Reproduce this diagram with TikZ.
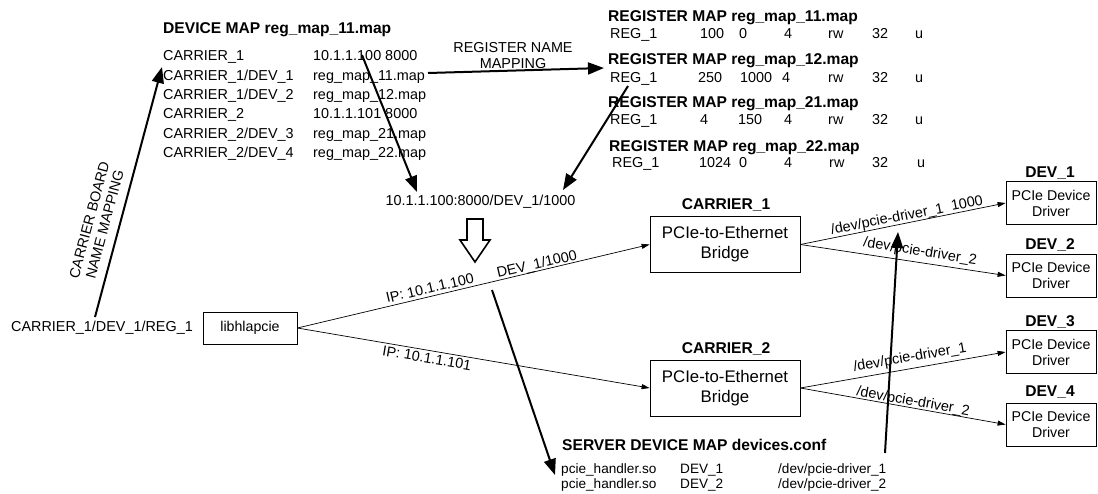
\documentclass[tikz,border=0pt]{standalone}
\usepackage{fontspec}
\setmainfont{Liberation Sans}
\usetikzlibrary{arrows.meta}
\begin{document}
\begin{tikzpicture}[x=1pt,y=-1pt,
  txt/.style={font=\fontsize{14.4}{16}\selectfont, inner sep=0pt, anchor=base west},
  small/.style={font=\fontsize{13.6}{15}\selectfont, inner sep=0pt, anchor=base west},
  hd/.style={font=\bfseries\fontsize{15.6}{18}\selectfont, inner sep=0pt, anchor=base west},
  hdc/.style={font=\bfseries\fontsize{15.6}{18}\selectfont, inner sep=0pt},
  bigarrow/.style={line width=2pt, -{Triangle[length=16pt,width=12pt]}},
  thinarrow/.style={line width=0.7pt, -{Triangle[length=8pt,width=5pt]}},
  bridge/.style={draw, line width=0.8pt, minimum width=150pt, minimum height=56pt, align=center, font=\fontsize{16.8}{20}\selectfont, inner sep=0pt},
  drv/.style={draw, line width=0.8pt, minimum width=90pt, minimum height=43pt, align=center, font=\fontsize{14.2}{16}\selectfont, inner sep=0pt},
  lbl/.style={font=\fontsize{14.4}{16}\selectfont, inner sep=0pt}
]
\useasboundingbox (0,0) rectangle (1098,493);

% ---------- device map ----------
\node[hd] (dmh) at (163,33.5) {DEVICE MAP reg\_map\_11.map};
\node[txt] (dm1a) at (163,60) {CARRIER\_1};
\node[txt] (dm2a) at (163,80) {CARRIER\_1/DEV\_1};
\node[txt] (dm3a) at (163,99) {CARRIER\_1/DEV\_2};
\node[txt] (dm4a) at (163,118) {CARRIER\_2};
\node[txt] (dm5a) at (163,138) {CARRIER\_2/DEV\_3};
\node[txt] (dm6a) at (163,157) {CARRIER\_2/DEV\_4};
\node[txt] (dm1b) at (313,60) {10.1.1.100 8000};
\node[txt] (dm2b) at (313,80) {reg\_map\_11.map};
\node[txt] (dm3b) at (313,99) {reg\_map\_12.map};
\node[txt] (dm4b) at (313,118) {10.1.1.101 8000};
\node[txt] (dm5b) at (313,138) {reg\_map\_21.map};
\node[txt] (dm6b) at (313,157) {reg\_map\_22.map};

% ---------- register maps ----------
\node[hd] (rm1) at (608,21.5) {REGISTER MAP reg\_map\_11.map};
\node[hd] (rm2) at (608,64.5) {REGISTER MAP reg\_map\_12.map};
\node[hd] (rm3) at (608,107.5) {REGISTER MAP reg\_map\_21.map};
\node[hd] (rm4) at (609,151.5) {REGISTER MAP reg\_map\_22.map};
% row 1
\node[txt] (r1a) at (610,38) {REG\_1};
\node[txt] at (700,38) {100};
\node[txt] at (739,38) {0};
\node[txt] at (784,38) {4};
\node[txt] at (828,38) {rw};
\node[txt] at (872,38) {32};
\node[txt] at (915,38) {u};
% row 2
\node[txt] (r2a) at (610,82) {REG\_1};
\node[txt] at (698,82) {250};
\node[txt] at (740,82) {1000};
\node[txt] at (782,82) {4};
\node[txt] at (828,82) {rw};
\node[txt] at (872,82) {32};
\node[txt] at (915,82) {u};
% row 3
\node[txt] (r3a) at (610,124) {REG\_1};
\node[txt] at (700,124) {4};
\node[txt] at (738,124) {150};
\node[txt] at (784,124) {4};
\node[txt] at (828,124) {rw};
\node[txt] at (872,124) {32};
\node[txt] at (915,124) {u};
% row 4
\node[txt] (r4a) at (612,167) {REG\_1};
\node[txt] at (699,167) {1024};
\node[txt] at (739,167) {0};
\node[txt] at (784,167) {4};
\node[txt] at (829,167) {rw};
\node[txt] at (872,167) {32};
\node[txt] at (917,167) {u};

% ---------- register name mapping ----------
\node[lbl, align=center] (rnm) at (513,56) {REGISTER NAME\\MAPPING};

% ---------- resolved address ----------
\node[txt, anchor=center] (addr) at (480.5,202) {10.1.1.100:8000/DEV\_1/1000};

% hollow arrow
\draw[line width=1.6pt, line join=miter] (467,219) -- (483,219) -- (483,240) -- (490,240) -- (475,262) -- (460,240) -- (467,240) -- cycle;

% ---------- left side ----------
\node[txt, anchor=center] (src) at (102,328) {CARRIER\_1/DEV\_1/REG\_1};
\node[draw, line width=0.8pt, minimum width=94pt, minimum height=32pt, inner sep=0pt, font=\fontsize{14.2}{16}\selectfont] (lib) at (250,328) {libhlapcie};
\node[lbl, align=center, rotate=75] (cbnm) at (97,222) {CARRIER BOARD\\NAME MAPPING};

% ---------- carriers ----------
\node[hdc] (c1h) at (726,205) {CARRIER\_1};
\node[bridge] (c1) at (725,244.5) {PCIe-to-Ethernet\\Bridge};
\node[hdc] (c2h) at (726,349) {CARRIER\_2};
\node[bridge] (c2) at (725,388) {PCIe-to-Ethernet\\Bridge};

% ---------- devices ----------
\node[hdc] (d1h) at (1050,173) {DEV\_1};
\node[drv] (d1) at (1051,203) {PCIe Device\\Driver};
\node[hdc] (d2h) at (1050,245) {DEV\_2};
\node[drv] (d2) at (1051,275.5) {PCIe Device\\Driver};
\node[hdc] (d3h) at (1050,322) {DEV\_3};
\node[drv] (d3) at (1051,352) {PCIe Device\\Driver};
\node[hdc] (d4h) at (1050,392) {DEV\_4};
\node[drv] (d4) at (1051,424.5) {PCIe Device\\Driver};

% ---------- server device map ----------
\node[hd] (sdm) at (562,450) {SERVER DEVICE MAP devices.conf};
\node[small] (s1a) at (561,473) {pcie\_handler.so};
\node[small] (s1b) at (680,473) {DEV\_1};
\node[small] (s1c) at (778,473) {/dev/pcie-driver\_1};
\node[small] (s2a) at (561,488) {pcie\_handler.so};
\node[small] (s2b) at (680,488) {DEV\_2};
\node[small] (s2c) at (778,488) {/dev/pcie-driver\_2};

% ---------- thin connectors ----------
\draw[thinarrow] (lib.east) -- (c1.west);
\draw[thinarrow] (lib.east) -- (c2.west);
\draw[thinarrow] (c1.east) -- (d1.west);
\draw[thinarrow] (c1.east) -- (d2.west);
\draw[thinarrow] (c2.east) -- (d3.west);
\draw[thinarrow] (c2.east) -- (d4.west);

\node[lbl, rotate=13.1] at (430,288) {IP: 10.1.1.100};
\node[lbl, rotate=13.1] at (537,265) {DEV\_1/1000};
\node[lbl, rotate=-9.65] at (427,358) {IP: 10.1.1.101};
\node[lbl, rotate=11.1] at (907,216) {/dev/pcie-driver\_1\ \ 1000};
\node[lbl, rotate=-8.8] at (920,252) {/dev/pcie-driver\_2};
\node[lbl, rotate=9.9] at (910,358) {/dev/pcie-driver\_1};
\node[lbl, rotate=-10] at (913,402) {/dev/pcie-driver\_2};

% ---------- thick arrows ----------
\coordinate (a1s) at (95,317);   \coordinate (a1e) at (162,67);
\coordinate (a2s) at (362,55);   \coordinate (a2e) at (417,192);
\coordinate (a3s) at (628,86);   \coordinate (a3e) at (563,190);
\coordinate (a4s) at (428,73);   \coordinate (a4e) at (604,68);
\coordinate (a5s) at (492,290);  \coordinate (a5e) at (555,475);
\coordinate (a6s) at (885,453);  \coordinate (a6e) at (898,232);
\draw[bigarrow] (a1s) -- (a1e);
\draw[bigarrow] (a2s) -- (a2e);
\draw[bigarrow] (a3s) -- (a3e);
\draw[bigarrow] (a4s) -- (a4e);
\draw[bigarrow] (a5s) -- (a5e);
\draw[bigarrow] (a6s) -- (a6e);
\end{tikzpicture}
\end{document}
